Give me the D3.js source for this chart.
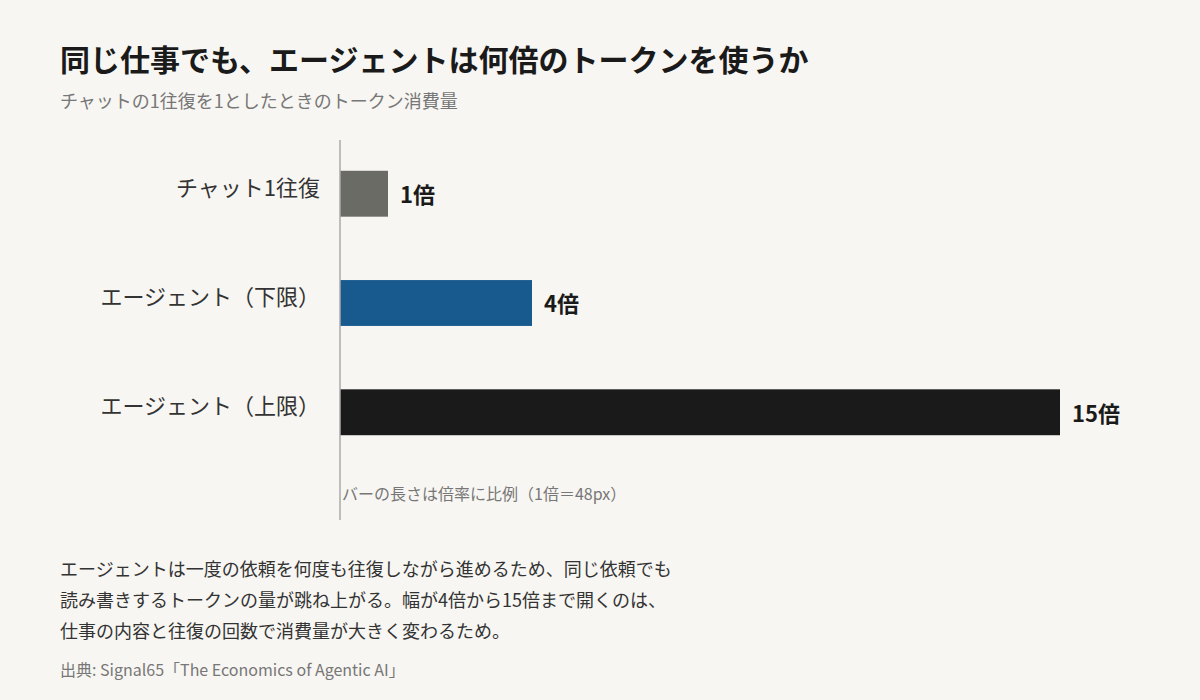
<!DOCTYPE html>
<html lang="ja">
<head>
<meta charset="utf-8">
<script src="https://cdn.jsdelivr.net/npm/d3@7"></script>
<style>
  html, body { margin: 0; padding: 0; background: #f7f6f2; }
  svg { display: block; font-family: "Noto Sans CJK JP", "Noto Sans", sans-serif; }
</style>
</head>
<body>
<svg id="chart" width="1200" height="700"></svg>
<script>
const categories = ["チャット1往復", "エージェント（下限）", "エージェント（上限）"];
const values = [1, 4, 15];
const valueLabels = ["1倍", "4倍", "15倍"];
const barColors = ["#6b6b66", "#195a8e", "#1a1a1a"];

const title = "同じ仕事でも、エージェントは何倍のトークンを使うか";
const subtitle = "チャットの1往復を1としたときのトークン消費量";
const scaleNote = "バーの長さは倍率に比例（1倍＝48px）";
const bodyLines = [
  "エージェントは一度の依頼を何度も往復しながら進めるため、同じ依頼でも",
  "読み書きするトークンの量が跳ね上がる。幅が4倍から15倍まで開くのは、",
  "仕事の内容と往復の回数で消費量が大きく変わるため。"
];
const source = "出典: Signal65「The Economics of Agentic AI」";

const svg = d3.select("#chart");
svg.append("rect").attr("width", 1200).attr("height", 700).attr("fill", "#f7f6f2");

svg.append("text").attr("x", 60).attr("y", 71)
  .attr("font-size", 30).attr("font-weight", 700).attr("fill", "#1a1a1a")
  .text(title);
svg.append("text").attr("x", 60).attr("y", 108)
  .attr("font-size", 18).attr("fill", "#777")
  .text(subtitle);

const x0 = 340;
const x = d3.scaleLinear().domain([0, 1]).range([x0, x0 + 48]);
const y = d3.scaleBand().domain(categories).range([138, 468]).paddingInner(0.58).paddingOuter(0.3);

const g = svg.append("g");
g.selectAll("rect.bar").data(values).enter().append("rect")
  .attr("class", "bar")
  .attr("x", x(0))
  .attr("y", (d, i) => y(categories[i]))
  .attr("width", d => x(d) - x(0))
  .attr("height", y.bandwidth())
  .attr("fill", (d, i) => barColors[i]);

g.selectAll("text.val").data(values).enter().append("text")
  .attr("class", "val")
  .attr("x", d => x(d) + 12)
  .attr("y", (d, i) => y(categories[i]) + y.bandwidth() / 2)
  .attr("dy", "0.42em")
  .attr("font-size", 22).attr("font-weight", 700).attr("fill", "#1a1a1a")
  .text((d, i) => valueLabels[i]);

const yAxis = d3.axisLeft(y).tickSize(0).tickPadding(20);
const ax = svg.append("g").attr("transform", `translate(${x0},0)`).call(yAxis);
ax.select(".domain").remove();
ax.selectAll("text").attr("font-size", 22).attr("fill", "#333").attr("dy", "0.1em")
  .attr("font-family", "'Noto Sans CJK JP', sans-serif");

svg.append("line").attr("x1", x0).attr("x2", x0).attr("y1", 140).attr("y2", 520)
  .attr("stroke", "#aaa").attr("stroke-width", 1.5);

svg.append("text").attr("x", 342).attr("y", 500)
  .attr("font-size", 16).attr("fill", "#777").text(scaleNote);

svg.selectAll("text.body").data(bodyLines).enter().append("text")
  .attr("class", "body")
  .attr("x", 60).attr("y", (d, i) => 576 + i * 31)
  .attr("font-size", 18).attr("fill", "#333").text(d => d);

svg.append("text").attr("x", 60).attr("y", 676)
  .attr("font-size", 16).attr("fill", "#777").text(source);
</script>
</body>
</html>
